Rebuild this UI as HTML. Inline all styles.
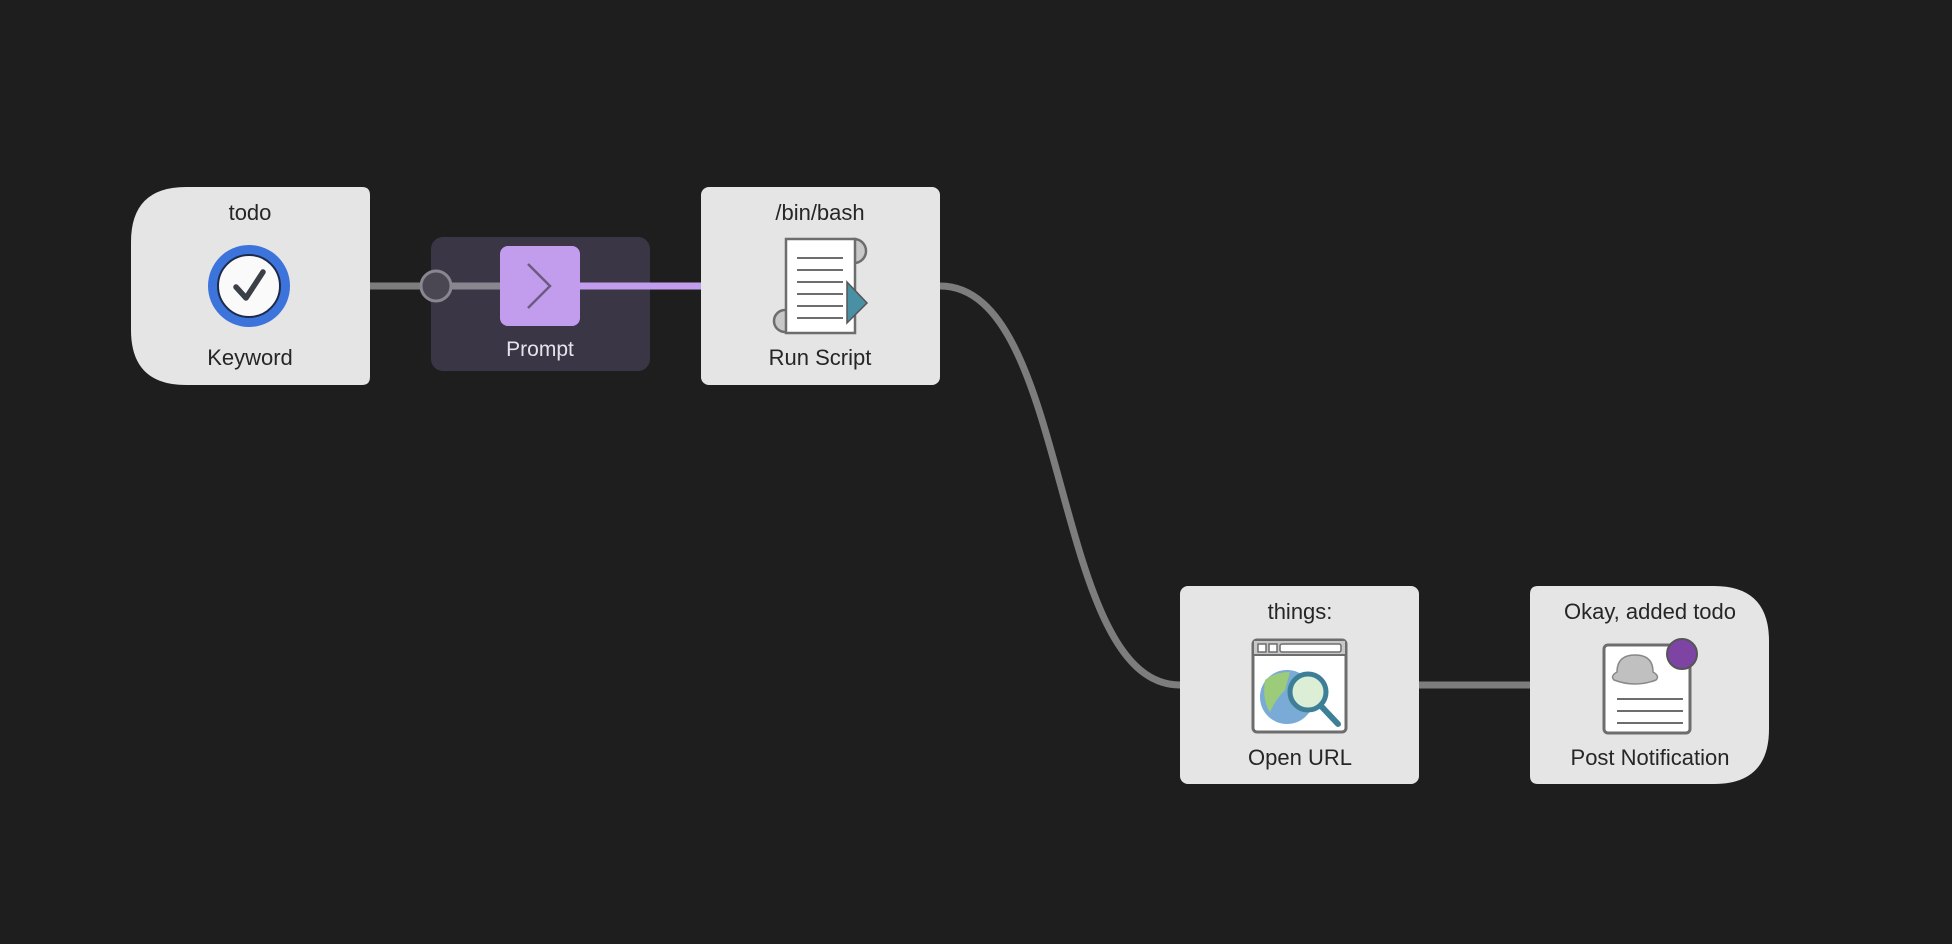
<!DOCTYPE html>
<html><head><meta charset="utf-8"><style>
html,body{margin:0;padding:0;background:#1e1e1e;width:1952px;height:944px;overflow:hidden}
text{font-family:"Liberation Sans",sans-serif;font-size:22px;fill:#262626;text-anchor:middle}
</style></head><body>
<svg width="1952" height="944" viewBox="0 0 1952 944" xmlns="http://www.w3.org/2000/svg">
<rect width="1952" height="944" fill="#1e1e1e"/>
<!-- connectors -->
<line x1="370" y1="286" x2="440" y2="286" stroke="#7d7d7d" stroke-width="7"/>
<path d="M940 286 C1072 286 1050 685 1180 685" fill="none" stroke="#7d7d7d" stroke-width="7"/>
<line x1="1419" y1="685" x2="1530" y2="685" stroke="#7d7d7d" stroke-width="7"/>
<!-- prompt group -->
<rect x="431" y="237" width="219" height="134" rx="12" fill="#3a3645"/>
<line x1="436" y1="286" x2="500" y2="286" stroke="#8a8690" stroke-width="7"/>
<line x1="580" y1="286" x2="701" y2="286" stroke="#c39ded" stroke-width="7"/>
<circle cx="436" cy="286" r="15" fill="#4a4652" stroke="#8a8690" stroke-width="3"/>
<rect x="500" y="246" width="80" height="80" rx="8" fill="#c39ded"/>
<polyline points="528,264 550,286 528,308" fill="none" stroke="#6e5a80" stroke-width="2.5"/>
<text x="540" y="356" style="fill:#e6e4ea;font-size:21px">Prompt</text>
<!-- keyword node -->
<path d="M186 187 H362 Q370 187 370 195 V377 Q370 385 362 385 H186 Q131 385 131 330 V242 Q131 187 186 187 Z" fill="#e5e5e5"/>
<text x="250" y="220">todo</text>
<circle cx="249" cy="286" r="41" fill="#3d74dc"/>
<circle cx="249" cy="286" r="31" fill="#fafafa" stroke="#1d2a4a" stroke-width="2"/>
<polyline points="236,287 246,298 263,272" fill="none" stroke="#3a3f48" stroke-width="5.5" stroke-linecap="round" stroke-linejoin="round"/>
<text x="250" y="365">Keyword</text>
<!-- run script node -->
<rect x="701" y="187" width="239" height="198" rx="8" fill="#e5e5e5"/>
<text x="820" y="220">/bin/bash</text>
<rect x="774" y="310" width="22" height="22" rx="11" fill="#c8c8c8" stroke="#6d6d6d" stroke-width="2.5"/>
<rect x="842" y="239" width="24" height="24" rx="12" fill="#c8c8c8" stroke="#6d6d6d" stroke-width="2.5"/>
<rect x="786" y="239" width="69" height="94" fill="#fff" stroke="#6d6d6d" stroke-width="2.5"/>
<g stroke="#6d6d6d" stroke-width="2">
<line x1="797" y1="258" x2="843" y2="258"/><line x1="797" y1="270" x2="843" y2="270"/>
<line x1="797" y1="282" x2="843" y2="282"/><line x1="797" y1="294" x2="843" y2="294"/>
<line x1="797" y1="306" x2="843" y2="306"/><line x1="797" y1="318" x2="843" y2="318"/></g>
<polygon points="847,282 867,303 847,323" fill="#4a90a4" stroke="#555" stroke-width="1.5"/>
<text x="820" y="365">Run Script</text>
<!-- open url node -->
<rect x="1180" y="586" width="239" height="198" rx="8" fill="#e5e5e5"/>
<text x="1300" y="619">things:</text>
<rect x="1253" y="640" width="93" height="92" rx="4" fill="#fff" stroke="#6d6d6d" stroke-width="3"/>
<rect x="1254" y="641" width="91" height="14" fill="#c8c8c8"/>
<line x1="1254" y1="655" x2="1345" y2="655" stroke="#6d6d6d" stroke-width="2"/>
<rect x="1258" y="644" width="8" height="8" fill="#fff" stroke="#6d6d6d" stroke-width="1.5"/>
<rect x="1269" y="644" width="8" height="8" fill="#fff" stroke="#6d6d6d" stroke-width="1.5"/>
<rect x="1280" y="644" width="61" height="8" rx="2" fill="#fff" stroke="#6d6d6d" stroke-width="1.5"/>
<circle cx="1287" cy="697" r="27" fill="#7aaad6"/>
<path d="M1265 680 Q1275 672 1290 672 L1285 690 Q1275 700 1270 712 Q1262 700 1265 680Z" fill="#9ccc7a"/>
<circle cx="1308" cy="692" r="18" fill="#dceed6" stroke="#3d7f96" stroke-width="5"/>
<line x1="1321" y1="706" x2="1338" y2="724" stroke="#3d7f96" stroke-width="6" stroke-linecap="round"/>
<text x="1300" y="765">Open URL</text>
<!-- post notification node -->
<path d="M1538 586 H1714 Q1769 586 1769 641 V729 Q1769 784 1714 784 H1538 Q1530 784 1530 776 V594 Q1530 586 1538 586 Z" fill="#e5e5e5"/>
<text x="1650" y="619">Okay, added todo</text>
<rect x="1604" y="645" width="86" height="88" rx="4" fill="#fff" stroke="#6d6d6d" stroke-width="3"/>
<path d="M1617 672 Q1617 655 1635 655 Q1653 655 1653 672 Q1660 676 1656 680 Q1635 688 1614 680 Q1610 676 1617 672Z" fill="#c0c0c0" stroke="#888" stroke-width="1.5"/>
<g stroke="#6d6d6d" stroke-width="2"><line x1="1617" y1="699" x2="1683" y2="699"/><line x1="1617" y1="711" x2="1683" y2="711"/><line x1="1617" y1="723" x2="1683" y2="723"/></g>
<circle cx="1682" cy="654" r="15" fill="#7d44a4" stroke="#555" stroke-width="2"/>
<text x="1650" y="765">Post Notification</text>
</svg>
</body></html>
